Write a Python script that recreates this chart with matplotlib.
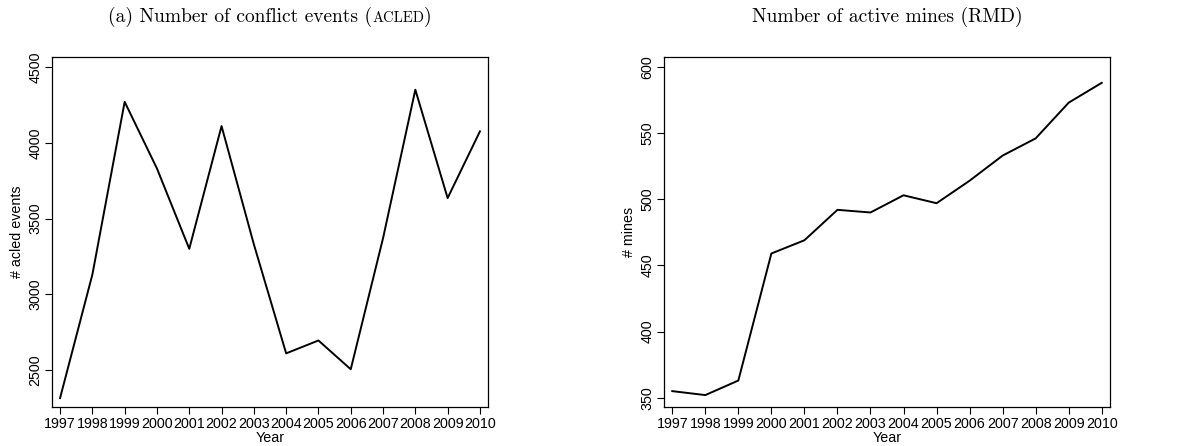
import matplotlib
matplotlib.use("Agg")
import matplotlib.pyplot as plt
from matplotlib.offsetbox import TextArea, HPacker, AnchoredOffsetbox

YEARS = list(range(1997, 2011))
ACLED_EVENTS = [2315, 3130, 4270, 3830, 3300, 4110, 3330, 2610, 2695, 2505, 3370, 4350, 3635, 4075]
ACTIVE_MINES = [355, 352, 363, 459, 469, 492, 490, 503, 497, 514, 533, 546, 573, 588]

SANS = "Liberation Sans"
SERIF = "cmr10"
FS = 10.3

fig = plt.figure(figsize=(11.88, 4.46), dpi=100)
W, H = 1188, 446
ax1 = fig.add_axes([52 / W, 1 - 407 / H, (488 - 52) / W, 350 / H])
ax2 = fig.add_axes([664 / W, 1 - 407 / H, (1110 - 664) / W, 350 / H])


def style(ax, yticks, ylabel):
    ax.set_xticks(YEARS)
    ax.set_xticklabels([str(y) for y in YEARS], fontfamily=SANS, fontsize=FS)
    ax.set_yticks(yticks)
    ax.set_yticklabels([str(t) for t in yticks], fontfamily=SANS, fontsize=FS,
                       rotation=90, va="center")
    ax.tick_params(direction="out", length=5, width=0.8, pad=2)
    ax.set_xlim(1996.75, 2010.25)
    ax.set_xlabel("Year", fontfamily=SANS, fontsize=FS, labelpad=0)
    ax.set_ylabel(ylabel, fontfamily=SANS, fontsize=FS, labelpad=3)
    for s in ax.spines.values():
        s.set_linewidth(0.9)


ax1.plot(YEARS, ACLED_EVENTS, color="black", lw=1.4)
style(ax1, [2500, 3000, 3500, 4000, 4500], "# acled events")
ax1.set_ylim(2256, 4566)

ax2.plot(YEARS, ACTIVE_MINES, color="black", lw=1.4)
style(ax2, [350, 400, 450, 500, 550, 600], "# mines")
ax2.set_ylim(343, 607.5)

# title with small-caps style acronym
parts = [
    TextArea("(a) Number of conflict events (", textprops=dict(family=SERIF, size=14)),
    TextArea("ACLED", textprops=dict(family=SERIF, size=10.5)),
    TextArea(")", textprops=dict(family=SERIF, size=14)),
]
box = HPacker(children=parts, align="baseline", pad=0, sep=0)
anchored = AnchoredOffsetbox(loc="lower center", child=box, pad=0, frameon=False,
                             bbox_to_anchor=(0.5, 1.085), bbox_transform=ax1.transAxes,
                             borderpad=0)
ax1.add_artist(anchored)

ax2.set_title("Number of active mines (RMD)", fontfamily=SERIF, fontsize=14, pad=25)

fig.savefig("out.png", dpi=100)
